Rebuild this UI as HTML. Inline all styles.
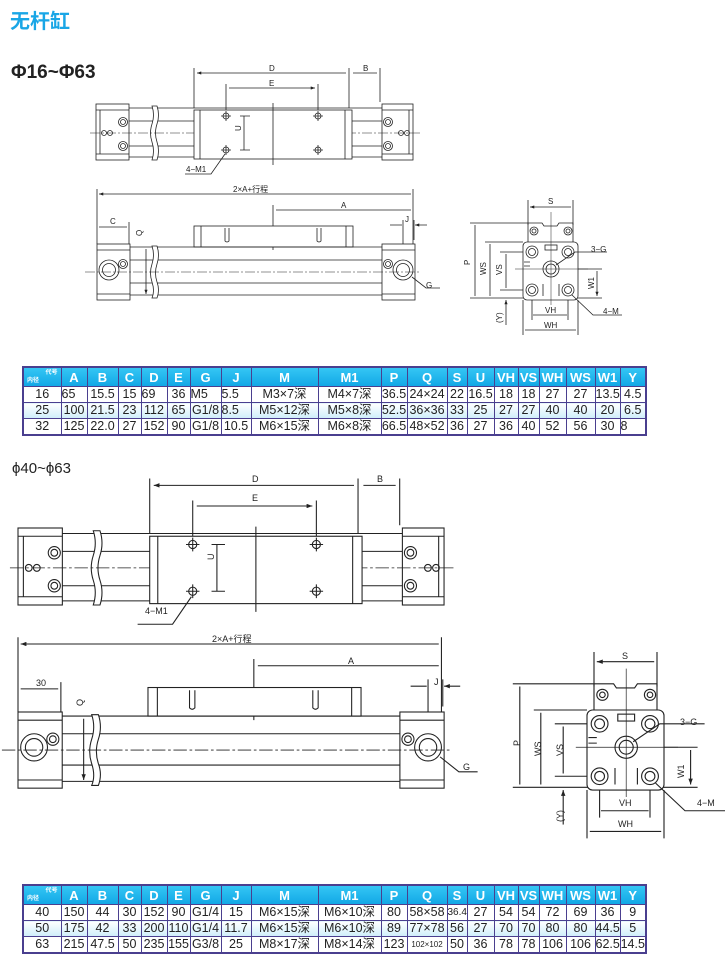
<!DOCTYPE html>
<html><head><meta charset="utf-8">
<style>
html,body{margin:0;padding:0;background:#fff;}
body{width:725px;height:956px;position:relative;overflow:hidden;font-family:"Liberation Sans","Noto Sans CJK SC",sans-serif;}
.t{position:absolute;}
table{border-collapse:collapse;position:absolute;left:22px;table-layout:fixed;font-size:12.5px;color:#222;}
td{border:1px solid #4a3f8f;padding:0;height:15px;line-height:15px;text-align:center;white-space:nowrap;overflow:hidden;}
tr.h td{background:linear-gradient(#35c6f4,#12a8e6);color:#fff;font-weight:bold;height:18px;font-size:13px;}
tr.m td{background:linear-gradient(#ffffff,#cfeefa);}
table{border:2px solid #4a3f8f;}
td.l{text-align:left;}
</style></head><body>
<div class="t" style="left:10px;top:5px;font-size:20px;font-weight:bold;color:#19a6e6;font-family:'Noto Sans CJK SC',sans-serif;">无杆缸</div>
<div class="t" style="left:11px;top:62px;font-size:19px;font-weight:bold;color:#222;">Φ16~Φ63</div>
<div class="t" style="left:12px;top:460px;font-size:15px;color:#222;">ϕ40~ϕ63</div>

<svg width="725" height="956" style="position:absolute;left:0;top:0" xmlns="http://www.w3.org/2000/svg">
<defs>
<marker id="a" viewBox="0 0 8 6" refX="8" refY="3" markerWidth="6" markerHeight="4" orient="auto-start-reverse"><path d="M0,0L8,3L0,6z" fill="#222"/></marker>
<g id="tv" fill="none" stroke="#222" stroke-width="0.8">
 <path d="M194,68V108M349,68V108M380,68V102M226,84V112M318,84V112"/>
 <path d="M197,73H346M353,73H377M229,88H315" marker-start="url(#a)" marker-end="url(#a)"/>
 <path d="M129,108H382M129,121H382M129,146H382M129,157H382"/>
 <rect x="96" y="104" width="33" height="56" fill="#fff"/>
 <path d="M100,110V154M96,110H129M96,154H129"/>
 <rect x="382" y="104" width="31" height="56" fill="#fff"/>
 <path d="M409,110V154M382,110H413M382,154H413"/>
 <path d="M152,106q3,9 0,18q-3,9 0,18q3,9 0,18h5q3,-9 0,-18q-3,-9 0,-18q3,-9 0,-18z" fill="#fff"/>
 <path d="M90,133H420" stroke-dasharray="10,2,2,2" stroke-width="0.6"/>
 <rect x="194" y="110" width="158" height="49" fill="#fff"/>
 <path d="M200,110V159M345,110V159M273,103V165"/>
 <g stroke-width="0.8"><circle cx="226" cy="116" r="3"/><circle cx="318" cy="116" r="3"/><circle cx="226" cy="150" r="3"/><circle cx="318" cy="150" r="3"/>
 <path d="M221,116h10M226,111v10M313,116h10M318,111v10M221,150h10M226,145v10M313,150h10M318,145v10"/></g>
 <path d="M240,116H250M240,150H250M244,116V150"/>
 <circle cx="123" cy="122" r="4.5"/><circle cx="123" cy="122" r="2.5"/><circle cx="123" cy="146" r="4.5"/><circle cx="123" cy="146" r="2.5"/>
 <circle cx="388" cy="122" r="4.5"/><circle cx="388" cy="122" r="2.5"/><circle cx="388" cy="146" r="4.5"/><circle cx="388" cy="146" r="2.5"/>
 <circle cx="104" cy="133" r="2.5"/><circle cx="110" cy="133" r="2.5"/><circle cx="401" cy="133" r="2.5"/><circle cx="407" cy="133" r="2.5"/>
 <path d="M185,174H211L225,154"/>
</g>
<g id="sv" fill="none" stroke="#222" stroke-width="0.8">
 <path d="M97,189V244M413,189V244M129,222V244M273,205V250M403,220V290M414,220V240"/>
 <path d="M99,194H411M276,210H411M99,227H127M146,249V294" marker-start="url(#a)" marker-end="url(#a)"/>
 <path d="M390,225H402M427,225H415" marker-end="url(#a)"/>
 <rect x="194" y="226" width="159" height="21" fill="#fff"/>
 <path d="M201,226V247M346,226V247"/>
 <path d="M225,228V241q2,2 4,0V228M317,228V241q2,2 4,0V228"/>
 <path d="M130,247H382M130,260H382M130,283H382M130,295H382"/>
 <rect x="97" y="244" width="33" height="56" fill="#fff"/>
 <path d="M97,250H130M97,294H130"/>
 <rect x="382" y="244" width="33" height="56" fill="#fff"/>
 <path d="M382,250H415M382,294H415"/>
 <path d="M152,246q3,9 0,18q-3,9 0,18q3,9 0,16h5q3,-8 0,-16q-3,-9 0,-18q3,-9 0,-18z" fill="#fff"/>
 <path d="M85,272H420" stroke-dasharray="10,2,2,2" stroke-width="0.6"/>
 <circle cx="109" cy="270" r="10"/><circle cx="109" cy="270" r="6.5"/>
 <circle cx="403" cy="270" r="10"/><circle cx="403" cy="270" r="6.5"/>
 <circle cx="123" cy="264" r="4.5"/><circle cx="123" cy="264" r="2.5"/>
 <circle cx="388" cy="264" r="4.5"/><circle cx="388" cy="264" r="2.5"/>
 <path d="M412,277L426,288H440"/>
</g>
<g id="ev" fill="none" stroke="#222" stroke-width="0.8">
 <path d="M528,200V225M573,200V225"/>
 <path d="M530,207H571M475,225V296M490,244V296M506,254V288M533,315H567M525,330H576M597,271V296" marker-start="url(#a)" marker-end="url(#a)"/>
 <path d="M506,325V300" marker-end="url(#a)"/>
 <path d="M470,223H528M485,242H523M500,252H532M500,290H532M470,298H602M575,269H602M532,290V320M568,290V320M523,300V335M578,300V335"/>
 <path d="M528,243V223H542l2,3h13l2,-3H573V243"/>
 <circle cx="534" cy="231" r="4"/><circle cx="534" cy="231" r="2"/><circle cx="568" cy="231" r="4"/><circle cx="568" cy="231" r="2"/>
 <rect x="523" y="242" width="55" height="58" rx="4" fill="#fff"/>
 <rect x="545" y="245" width="12" height="5"/>
 <g><circle cx="532" cy="252" r="6"/><circle cx="532" cy="252" r="3.5"/><circle cx="568" cy="252" r="6"/><circle cx="568" cy="252" r="3.5"/>
 <circle cx="532" cy="290" r="6"/><circle cx="532" cy="290" r="3.5"/><circle cx="568" cy="290" r="6"/><circle cx="568" cy="290" r="3.5"/></g>
 <circle cx="551" cy="269" r="8"/><circle cx="551" cy="269" r="5"/>
 <path d="M551,212V305M515,269H588" stroke-width="0.5"/>
 <path d="M524,262h6M524,266h6M543,284v12M559,284v12"/>
 <path d="M556,265L575,252H607M572,295L593,315H622"/>
</g>
</defs>
<use href="#tv"/>
<use href="#sv"/>
<use href="#ev"/>
<use href="#tv" transform="translate(18,528) scale(1.344,1.375) translate(-96,-104)"/>
<use href="#sv" transform="translate(18,712) scale(1.34,1.36) translate(-97,-244)"/>
<use href="#ev" transform="translate(587,710) scale(1.4,1.38) translate(-523,-242)"/>
<g font-family="Liberation Sans,Noto Sans CJK SC,sans-serif" font-size="8" fill="#222">
 <text x="269" y="71">D</text><text x="363" y="71">B</text><text x="269" y="86">E</text>
 <text x="241" y="131" transform="rotate(-90 241 131)">U</text>
 <text x="186" y="172">4−M1</text>
 <text x="233" y="192">2×A+行程</text><text x="341" y="208">A</text><text x="110" y="224">C</text>
 <text x="142" y="236" transform="rotate(-90 142 236)">Q</text>
 <text x="405" y="222">J</text><text x="426" y="288">G</text>
 <text x="548" y="204">S</text>
 <text x="470" y="265" transform="rotate(-90 470 265)">P</text>
 <text x="486" y="275" transform="rotate(-90 486 275)">WS</text>
 <text x="502" y="275" transform="rotate(-90 502 275)">VS</text>
 <text x="502" y="323" transform="rotate(-90 502 323)">(Y)</text>
 <text x="545" y="313">VH</text><text x="544" y="328">WH</text>
 <text x="594" y="289" transform="rotate(-90 594 289)">W1</text>
 <text x="591" y="252">3−G</text><text x="603" y="314">4−M</text>
</g>
<g font-family="Liberation Sans,Noto Sans CJK SC,sans-serif" font-size="9" fill="#222">
 <text x="252" y="482">D</text><text x="377" y="482">B</text><text x="252" y="501">E</text>
 <text x="214" y="560" transform="rotate(-90 214 560)">U</text>
 <text x="145" y="614">4−M1</text>
 <text x="212" y="642">2×A+行程</text><text x="348" y="664">A</text><text x="36" y="686">30</text>
 <text x="83" y="706" transform="rotate(-90 83 706)">Q</text>
 <text x="434" y="685">J</text><text x="463" y="770">G</text>
 <text x="622" y="659">S</text>
 <text x="520" y="746" transform="rotate(-90 520 746)">P</text>
 <text x="541" y="756" transform="rotate(-90 541 756)">WS</text>
 <text x="563" y="756" transform="rotate(-90 563 756)">VS</text>
 <text x="563" y="822" transform="rotate(-90 563 822)">(Y)</text>
 <text x="619" y="806">VH</text><text x="618" y="827">WH</text>
 <text x="684" y="778" transform="rotate(-90 684 778)">W1</text>
 <text x="680" y="725">3−G</text><text x="697" y="806">4−M</text>
</g>
</svg>

<table style="top:366px;width:624px;">
<colgroup><col style="width:38px"><col style="width:26px"><col style="width:31px"><col style="width:23px"><col style="width:26px"><col style="width:23px"><col style="width:31px"><col style="width:30px"><col style="width:67px"><col style="width:63px"><col style="width:26px"><col style="width:40px"><col style="width:20px"><col style="width:27px"><col style="width:24px"><col style="width:21px"><col style="width:27px"><col style="width:29px"><col style="width:25px"><col style="width:26px"></colgroup>
<tr class="h"><td style="font-size:6px;line-height:8px;text-align:right;padding-right:3px">代号<br><span style="float:left;padding-left:3px">内径</span></td><td>A</td><td>B</td><td>C</td><td>D</td><td>E</td><td>G</td><td>J</td><td>M</td><td>M1</td><td>P</td><td>Q</td><td>S</td><td>U</td><td>VH</td><td>VS</td><td>WH</td><td>WS</td><td>W1</td><td>Y</td></tr>
<tr><td>16</td><td class="l">65</td><td>15.5</td><td>15</td><td class="l">69</td><td>36</td><td class="l">M5</td><td class="l">5.5</td><td>M3×7深</td><td>M4×7深</td><td>36.5</td><td>24×24</td><td>22</td><td>16.5</td><td>18</td><td>18</td><td>27</td><td>27</td><td>13.5</td><td>4.5</td></tr>
<tr class="m"><td>25</td><td>100</td><td>21.5</td><td>23</td><td>112</td><td>65</td><td>G1/8</td><td class="l">8.5</td><td>M5×12深</td><td>M5×8深</td><td>52.5</td><td>36×36</td><td>33</td><td>25</td><td>27</td><td>27</td><td>40</td><td>40</td><td>20</td><td>6.5</td></tr>
<tr><td>32</td><td>125</td><td>22.0</td><td>27</td><td>152</td><td>90</td><td>G1/8</td><td>10.5</td><td>M6×15深</td><td>M6×8深</td><td>66.5</td><td>48×52</td><td>36</td><td>27</td><td>36</td><td>40</td><td>52</td><td>56</td><td>30</td><td class="l">8</td></tr>
</table>

<table style="top:884px;width:624px;">
<colgroup><col style="width:38px"><col style="width:26px"><col style="width:31px"><col style="width:23px"><col style="width:26px"><col style="width:23px"><col style="width:31px"><col style="width:30px"><col style="width:67px"><col style="width:63px"><col style="width:26px"><col style="width:40px"><col style="width:20px"><col style="width:27px"><col style="width:24px"><col style="width:21px"><col style="width:27px"><col style="width:29px"><col style="width:25px"><col style="width:26px"></colgroup>
<tr class="h"><td style="font-size:6px;line-height:8px;text-align:right;padding-right:3px">代号<br><span style="float:left;padding-left:3px">内径</span></td><td>A</td><td>B</td><td>C</td><td>D</td><td>E</td><td>G</td><td>J</td><td>M</td><td>M1</td><td>P</td><td>Q</td><td>S</td><td>U</td><td>VH</td><td>VS</td><td>WH</td><td>WS</td><td>W1</td><td>Y</td></tr>
<tr><td>40</td><td>150</td><td>44</td><td>30</td><td>152</td><td>90</td><td>G1/4</td><td>15</td><td>M6×15深</td><td>M6×10深</td><td>80</td><td>58×58</td><td style="font-size:10px">36.4</td><td>27</td><td>54</td><td>54</td><td>72</td><td>69</td><td>36</td><td>9</td></tr>
<tr class="m"><td>50</td><td>175</td><td>42</td><td>33</td><td>200</td><td>110</td><td>G1/4</td><td>11.7</td><td>M6×15深</td><td>M6×10深</td><td>89</td><td>77×78</td><td>56</td><td>27</td><td>70</td><td>70</td><td>80</td><td>80</td><td>44.5</td><td>5</td></tr>
<tr><td>63</td><td>215</td><td>47.5</td><td>50</td><td>235</td><td>155</td><td>G3/8</td><td>25</td><td>M8×17深</td><td>M8×14深</td><td>123</td><td style="font-size:8px">102×102</td><td>50</td><td>36</td><td>78</td><td>78</td><td>106</td><td>106</td><td>62.5</td><td>14.5</td></tr>
</table>
</body></html>
